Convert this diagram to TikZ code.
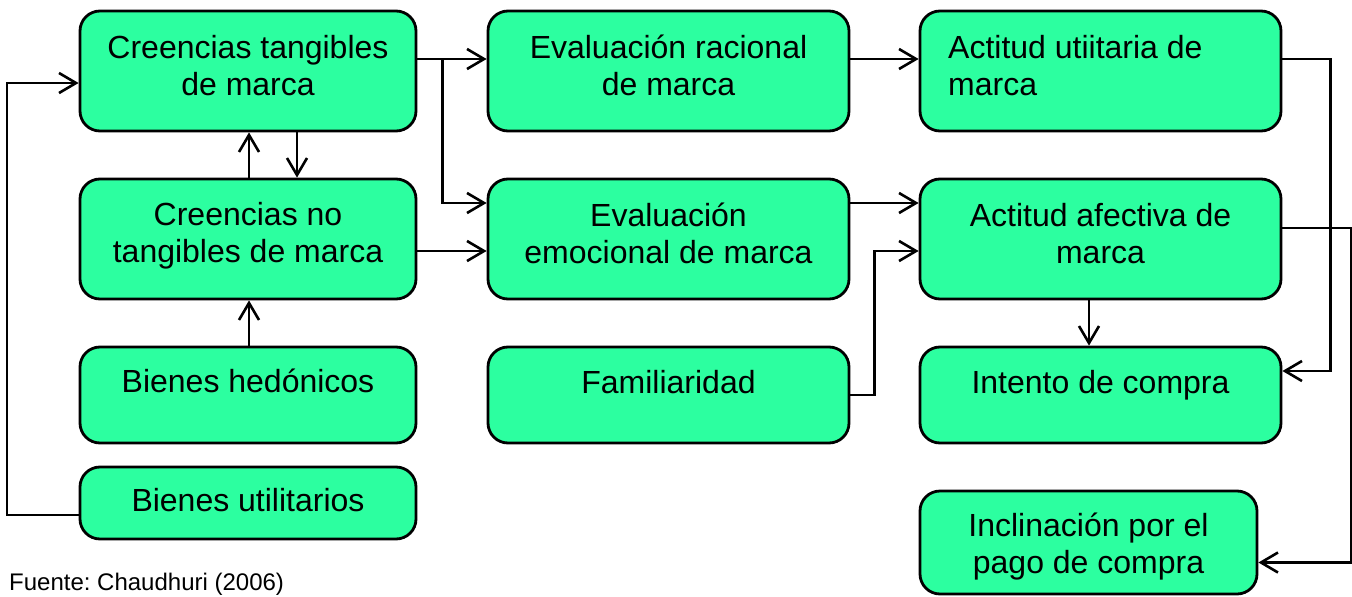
\documentclass[tikz,border=0pt]{standalone}
\usepackage{fontspec}
\setmainfont{Liberation Sans}
\usetikzlibrary{arrows.meta,calc}
\definecolor{mint}{RGB}{44,255,160}
\frenchspacing
\begin{document}
\begin{tikzpicture}[x=1pt,y=-1pt,
  box/.style={draw=black,line width=2.8pt,fill=mint,rounded corners=20pt,inner sep=0pt,minimum width=#1},
  box/.default=361pt,
  txt/.style={inner sep=0pt,align=center,anchor=base,font=\fontsize{32}{37}\selectfont},
  arr/.style={draw=black,line width=2.6pt,-{Straight Barb[length=17pt,width=20pt,line width=2.6pt]}},
  ln/.style={draw=black,line width=2.6pt}]
\useasboundingbox (0,0) rectangle (1352,597);
% boxes
\node[box=336pt,minimum height=120pt] (b1) at (248,71) {};
\node[box,minimum height=120pt] (b2) at (668.5,71) {};
\node[box,minimum height=120pt] (b3) at (1100.5,71) {};
\node[box=336pt,minimum height=120pt] (b4) at (248,239) {};
\node[box,minimum height=120pt] (b5) at (668.5,239) {};
\node[box,minimum height=120pt] (b6) at (1100.5,239) {};
\node[box=336pt,minimum height=96pt] (b7) at (248,395) {};
\node[box,minimum height=96pt] (b8) at (668.5,395) {};
\node[box,minimum height=96pt] (b9) at (1100.5,395) {};
\node[box=336pt,minimum height=72pt] (b10) at (248,503) {};
\node[box=337pt,minimum height=103pt] (b11) at (1088.5,542.5) {};
% texts (multi-line: anchor at last baseline)
\node[txt] (t1) at (248,95) {Creencias tangibles\\de marca};
\node[txt] (t2) at (668.5,95) {Evaluación racional\\de marca};
\node[txt,align=left,anchor=base west] (t3) at (948,95) {Actitud utiitaria de\\marca};
\node[txt] (t4) at (248,262) {Creencias no\\tangibles de marca};
\node[txt] (t5) at (668.5,263) {Evaluación\\emocional de marca};
\node[txt] (t6) at (1100.5,263) {Actitud afectiva de\\marca};
\node[txt] (t7) at (248,392) {Bienes hedónicos};
\node[txt] (t8) at (668.5,393) {Familiaridad};
\node[txt] (t9) at (1100.5,393) {Intento de compra};
\node[txt] (t10) at (248,511) {Bienes utilitarios};
\node[txt] (t11) at (1088.5,573) {Inclinación por el\\pago de compra};
\node[inner sep=0pt,anchor=base west,font=\fontsize{24}{28}\selectfont] (src) at (9,590) {Fuente: Chaudhuri (2006)};
% connectors
\draw[arr] ([yshift=12pt]b1.east) -- ([yshift=12pt]b2.west);
\draw[arr] ([xshift=25pt,yshift=12pt]b1.east) |- ([yshift=36pt]b5.west);
\draw[arr] ([yshift=-12pt]b4.east) -- ([yshift=-12pt]b5.west);
\draw[arr] ([yshift=12pt]b2.east) -- ([yshift=12pt]b3.west);
\draw[arr] ([yshift=36pt]b5.east) -- ([yshift=36pt]b6.west);
\draw[arr] (b8.east) -- ++(24,0) |- ([yshift=-12pt]b6.west);
\draw[arr] ([yshift=12pt]b3.east) -- ++(48,0) |- ([yshift=24pt]b9.east);
\draw[arr] ([yshift=11pt]b6.east) -- ++(69,0) |- ([yshift=-20pt]b11.east);
\draw[arr] ([xshift=-11.5pt]b6.south) -- ([xshift=-11.5pt]b9.north);
\draw[arr] ([yshift=-12pt]b10.west) -- ++(-71.5,0) |- ([yshift=-12pt]b1.west);
\draw[arr] ([xshift=1pt]b7.north) -- ([xshift=1pt]b4.south);
\draw[arr] ([xshift=1pt]b4.north) -- ([xshift=1pt]b1.south);
\draw[arr] ([xshift=49pt]b1.south) -- ([xshift=49pt]b4.north);
\end{tikzpicture}
\end{document}
